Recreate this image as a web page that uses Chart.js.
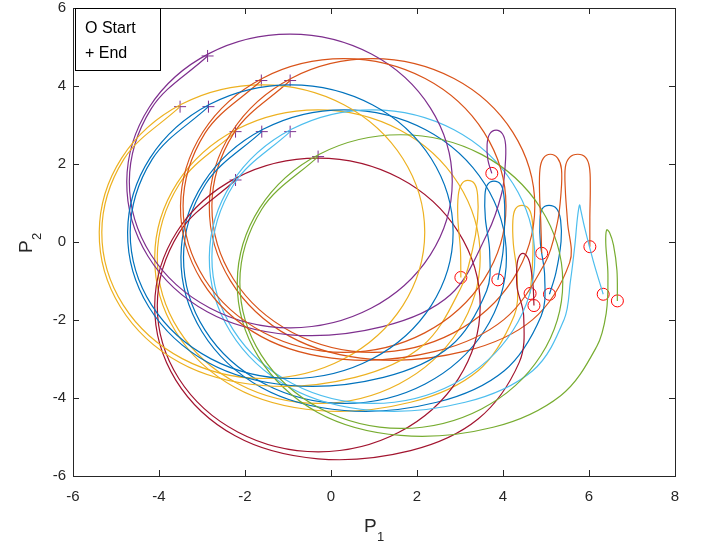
<!DOCTYPE html>
<html>
<head>
<meta charset="utf-8">
<script src="https://cdn.jsdelivr.net/npm/chart.js@4.4.1/dist/chart.umd.min.js"></script>
<style>
    body { margin: 0; background: #fff; }
</style>
</head>
<body>
<canvas id="phaseChart" width="702" height="544"></canvas>
<script>
// trajectories in the (P1, P2) plane
// each one: start (red circle) -> small loop -> spiral in -> limit circle -> end (+)
let blueAPath = [
    [3.88,-0.97],[4.00,-0.25],[4.04,0.65],[4.02,1.20],[3.95,1.47],[3.79,1.56],[3.64,1.47],[3.58,1.20],[3.59,0.60],[3.69,-0.25],
    [3.62,-1.25],[2.79,-2.66],[1.22,-3.47],[-0.93,-3.68],[-2.86,-3.09],[-4.24,-1.66],
    [-4.73,0.25],[-4.21,2.15],[-2.82,3.53],[-0.93,4.03],[0.96,3.52],[2.33,2.14],[2.84,0.25],[2.33,-1.63],
    [0.95,-3.00],[-0.93,-3.50],[-2.80,-2.99],[-4.17,-1.62],[-4.67,0.25],[-4.16,2.12],[-2.85,3.47]
];
let orangeAPath = [
    [4.90,-0.29],[4.88,0.47],[4.85,1.27],[4.86,1.87],[4.94,2.15],[5.10,2.25],[5.27,2.15],[5.36,1.87],[5.35,1.27],[5.26,0.47],
    [4.98,-0.53],[4.02,-1.99],[2.45,-2.80],[0.30,-3.01],[-1.63,-2.42],[-3.01,-0.99],
    [-3.50,0.92],[-2.98,2.82],[-1.59,4.20],[0.30,4.70],[2.19,4.19],[3.56,2.81],[4.07,0.92],[3.56,-0.96],
    [2.18,-2.33],[0.30,-2.83],[-1.57,-2.32],[-2.94,-0.95],[-3.44,0.92],[-2.93,2.79],[-1.62,4.14]
];
let yellowAPath = [
    [3.02,-0.91],[3.01,-0.20],[2.95,0.60],[2.96,1.20],[3.04,1.49],[3.18,1.58],[3.34,1.49],[3.41,1.20],[3.41,0.60],[3.29,-0.20],
    [3.01,-1.20],[2.13,-2.66],[0.56,-3.47],[-1.59,-3.68],[-3.52,-3.09],[-4.90,-1.66],
    [-5.39,0.25],[-4.87,2.15],[-3.48,3.53],[-1.59,4.03],[0.30,3.52],[1.67,2.14],[2.18,0.25],[1.67,-1.63],
    [0.29,-3.00],[-1.59,-3.50],[-3.46,-2.99],[-4.83,-1.62],[-5.33,0.25],[-4.82,2.12],[-3.51,3.47]
];
let purplePath = [
    [3.74,1.76],[3.65,2.10],[3.63,2.50],[3.69,2.77],[3.84,2.87],[3.99,2.77],[4.06,2.50],[4.05,1.95],[3.97,1.25],
    [3.65,0.25],[2.77,-1.36],[1.20,-2.17],[-0.95,-2.38],[-2.88,-1.79],[-4.26,-0.36],
    [-4.75,1.55],[-4.23,3.45],[-2.84,4.83],[-0.95,5.33],[0.94,4.82],[2.31,3.44],[2.82,1.55],[2.31,-0.33],
    [0.93,-1.70],[-0.95,-2.20],[-2.82,-1.69],[-4.19,-0.32],[-4.69,1.55],[-4.18,3.42],[-2.87,4.77]
];
let greenPath = [
    [6.66,-1.51],[6.65,-0.73],[6.57,-0.08],[6.48,0.24],[6.41,0.31],[6.39,-0.03],[6.44,-0.83],[6.40,-1.83],
    [6.18,-2.68],[5.34,-3.94],[3.77,-4.75],[1.62,-4.96],[-0.31,-4.37],[-1.69,-2.94],
    [-2.18,-1.03],[-1.66,0.87],[-0.27,2.25],[1.62,2.75],[3.51,2.24],[4.88,0.86],[5.39,-1.03],[4.88,-2.91],
    [3.50,-4.28],[1.62,-4.78],[-0.25,-4.27],[-1.62,-2.90],[-2.12,-1.03],[-1.61,0.84],[-0.30,2.19]
];
let lightBluePath = [
    [6.33,-1.34],[6.10,-0.49],[5.90,0.36],[5.81,0.81],[5.78,0.95],[5.73,0.61],[5.67,-0.09],[5.57,-0.99],
    [5.42,-1.99],[4.69,-3.30],[3.12,-4.11],[0.97,-4.32],[-0.96,-3.73],[-2.34,-2.30],
    [-2.83,-0.39],[-2.31,1.51],[-0.92,2.89],[0.97,3.39],[2.86,2.88],[4.23,1.50],[4.74,-0.39],[4.23,-2.27],
    [2.85,-3.64],[0.97,-4.14],[-0.90,-3.63],[-2.27,-2.26],[-2.77,-0.39],[-2.26,1.48],[-0.95,2.83]
];
let darkRedPath = [
    [4.72,-1.63],[4.70,-1.13],[4.65,-0.68],[4.58,-0.41],[4.46,-0.29],[4.36,-0.41],[4.32,-0.68],[4.33,-1.18],[4.48,-1.88],
    [4.38,-3.08],[3.42,-4.54],[1.85,-5.35],[-0.30,-5.56],[-2.23,-4.97],[-3.61,-3.54],
    [-4.10,-1.63],[-3.58,0.27],[-2.19,1.65],[-0.30,2.15],[1.59,1.64],[2.96,0.26],[3.47,-1.63],[2.96,-3.51],
    [1.58,-4.88],[-0.30,-5.38],[-2.17,-4.87],[-3.54,-3.50],[-4.04,-1.63],[-3.53,0.24],[-2.22,1.59]
];
let blueBPath = [
    [5.08,-1.34],[5.23,-0.79],[5.35,0.01],[5.34,0.56],[5.25,0.85],[5.07,0.94],[4.91,0.85],[4.86,0.56],[4.87,-0.04],[4.97,-0.89],
    [4.89,-1.89],[4.03,-3.30],[2.46,-4.11],[0.31,-4.32],[-1.62,-3.73],[-3.00,-2.30],
    [-3.49,-0.39],[-2.97,1.51],[-1.58,2.89],[0.31,3.39],[2.20,2.88],[3.57,1.50],[4.08,-0.39],[3.57,-2.27],
    [2.19,-3.64],[0.31,-4.14],[-1.56,-3.63],[-2.93,-2.26],[-3.43,-0.39],[-2.92,1.48],[-1.61,2.83]
];
let orangeBPath = [
    [6.02,-0.12],[6.02,0.62],[6.03,1.42],[6.01,1.92],[5.92,2.17],[5.74,2.25],[5.55,2.17],[5.45,1.92],[5.45,1.32],[5.50,0.52],
    [5.55,-0.53],[4.69,-1.99],[3.12,-2.80],[0.97,-3.01],[-0.96,-2.42],[-2.34,-0.99],
    [-2.83,0.92],[-2.31,2.82],[-0.92,4.20],[0.97,4.70],[2.86,4.19],[4.23,2.81],[4.74,0.92],[4.23,-0.96],
    [2.85,-2.33],[0.97,-2.83],[-0.90,-2.32],[-2.27,-0.95],[-2.77,0.92],[-2.26,2.79],[-0.95,4.14]
];
let yellowBPath = [
    [4.63,-1.32],[4.68,-0.69],[4.70,0.01],[4.68,0.56],[4.60,0.85],[4.44,0.94],[4.29,0.85],[4.23,0.56],[4.24,-0.04],[4.33,-0.89],
    [4.26,-1.89],[3.42,-3.30],[1.85,-4.11],[-0.30,-4.32],[-2.23,-3.73],[-3.61,-2.30],
    [-4.10,-0.39],[-3.58,1.51],[-2.19,2.89],[-0.30,3.39],[1.59,2.88],[2.96,1.50],[3.47,-0.39],[2.96,-2.27],
    [1.58,-3.64],[-0.30,-4.14],[-2.17,-3.63],[-3.54,-2.26],[-4.04,-0.39],[-3.53,1.48],[-2.22,2.83]
];

// start / end markers
let startX = [3.74, 3.02, 3.88, 4.90, 6.02, 4.63, 5.08, 4.72, 6.33, 6.66];
let startY = [1.76, -0.91, -0.97, -0.29, -0.12, -1.32, -1.34, -1.63, -1.34, -1.51];
let endX = [-2.87, -3.51, -2.85, -1.62, -0.95, -2.22, -1.61, -2.22, -0.95, -0.30];
let endY = [4.77, 3.47, 3.47, 4.14, 4.14, 2.83, 2.83, 1.59, 2.83, 2.19];

// axis ticks
let xTicks = [-6, -4, -2, 0, 2, 4, 6, 8];
let yTicks = [-6, -4, -2, 0, 2, 4, 6];

let paths = [blueAPath, orangeAPath, yellowAPath, purplePath, greenPath,
             lightBluePath, darkRedPath, blueBPath, orangeBPath, yellowBPath];
// matlab default line colours, same order as paths
let pathColors = ['#0072BD', '#D95319', '#EDB120', '#7E2F8E', '#77AC30',
                  '#4DBEEE', '#A2142F', '#0072BD', '#D95319', '#EDB120'];

let axisColor = '#262626';
let fontFamily = '"Liberation Sans", Arial, Helvetica, sans-serif';

let datasets = [];
for (let i = 0; i < paths.length; i++) {
    datasets.push({
        data: paths[i].map(p => ({ x: p[0], y: p[1] })),
        showLine: true,
        borderColor: pathColors[i],
        borderWidth: 1.2,
        tension: 0.35,
        pointRadius: 0
    });
}
datasets.push({
    data: startX.map((x, i) => ({ x: x, y: startY[i] })),
    showLine: false,
    pointStyle: 'circle',
    pointRadius: 6,
    borderColor: '#FF0000',
    backgroundColor: 'rgba(0,0,0,0)',
    borderWidth: 1
});
datasets.push({
    data: endX.map((x, i) => ({ x: x, y: endY[i] })),
    showLine: false,
    pointStyle: 'cross',
    pointRadius: 6,
    borderColor: '#7E2F8E',
    borderWidth: 1
});

// box, inward ticks, axis labels and the little text legend (matlab look)
let matlabFrame = {
    id: 'matlabFrame',
    afterDraw(chart) {
        let ctx = chart.ctx;
        let a = chart.chartArea;
        let xs = chart.scales.x;
        let ys = chart.scales.y;
        ctx.save();
        ctx.strokeStyle = axisColor;
        ctx.lineWidth = 1;
        ctx.strokeRect(Math.round(a.left) + 0.5, Math.round(a.top) + 0.5,
                       Math.round(a.right - a.left), Math.round(a.bottom - a.top));
        ctx.beginPath();
        xTicks.forEach(v => {
            let px = Math.round(xs.getPixelForValue(v)) + 0.5;
            ctx.moveTo(px, a.bottom); ctx.lineTo(px, a.bottom - 6);
            ctx.moveTo(px, a.top); ctx.lineTo(px, a.top + 6);
        });
        yTicks.forEach(v => {
            let py = Math.round(ys.getPixelForValue(v)) + 0.5;
            ctx.moveTo(a.left, py); ctx.lineTo(a.left + 6, py);
            ctx.moveTo(a.right, py); ctx.lineTo(a.right - 6, py);
        });
        ctx.stroke();

        // axis titles P1 / P2 with subscripts
        ctx.fillStyle = axisColor;
        ctx.textBaseline = 'alphabetic';
        ctx.textAlign = 'left';
        let cx = (a.left + a.right) / 2;
        ctx.font = '19px ' + fontFamily;
        ctx.fillText('P', cx - 10, 532);
        ctx.font = '13px ' + fontFamily;
        ctx.fillText('1', cx + 3, 541);

        ctx.save();
        ctx.translate(32, (a.top + a.bottom) / 2);
        ctx.rotate(-Math.PI / 2);
        ctx.font = '19px ' + fontFamily;
        ctx.fillText('P', -11, 0);
        ctx.font = '13px ' + fontFamily;
        ctx.fillText('2', 2, 9);
        ctx.restore();

        // legend box
        ctx.fillStyle = '#fff';
        ctx.fillRect(75, 8, 85, 62);
        ctx.strokeStyle = '#000';
        ctx.strokeRect(75.5, 8.5, 85, 62);
        ctx.fillStyle = '#000';
        ctx.font = '16px ' + fontFamily;
        ctx.fillText('O Start', 85, 33);
        ctx.fillText('+ End', 85, 58);
        ctx.restore();
    }
};

let ctx = document.getElementById('phaseChart').getContext('2d');
let phaseChart = new Chart(ctx, {
    type: 'scatter',
    data: { datasets: datasets },
    options: {
        responsive: false,
        animation: false,
        layout: { padding: { top: 8, right: 27, left: 0, bottom: 0 } },
        plugins: { legend: { display: false }, tooltip: { enabled: false } },
        scales: {
            x: {
                type: 'linear',
                min: -6, max: 8,
                afterBuildTicks: s => { s.ticks = xTicks.map(v => ({ value: v })); },
                afterFit: s => { s.height = 68; s.paddingLeft = 0; s.paddingRight = 0; },
                grid: { display: false, drawTicks: false },
                border: { display: false },
                ticks: { color: axisColor, padding: 12, font: { family: fontFamily, size: 15 } }
            },
            y: {
                type: 'linear',
                min: -6, max: 6,
                afterBuildTicks: s => { s.ticks = yTicks.map(v => ({ value: v })); },
                afterFit: s => { s.width = 73; s.paddingTop = 0; s.paddingBottom = 0; },
                grid: { display: false, drawTicks: false },
                border: { display: false },
                ticks: { color: axisColor, padding: 7, font: { family: fontFamily, size: 15 } }
            }
        }
    },
    plugins: [matlabFrame]
});
</script>
</body>
</html>
